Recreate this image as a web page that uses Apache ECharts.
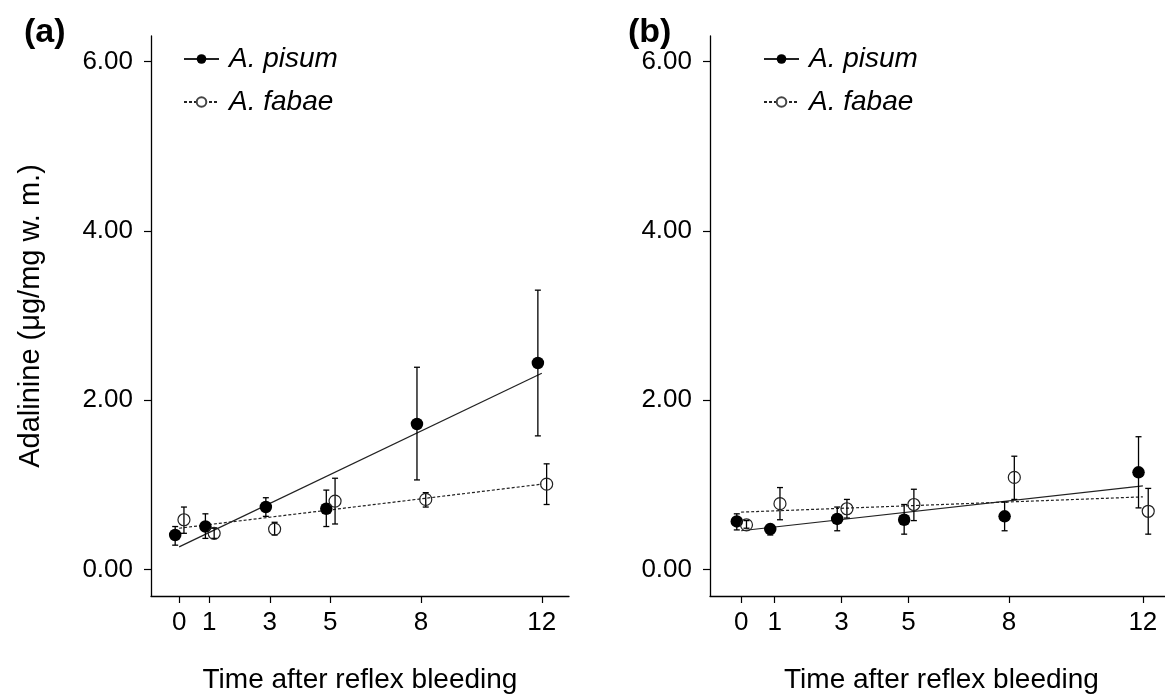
<!DOCTYPE html>
<html>
<head>
<meta charset="utf-8">
<title>Adalinine</title>
<script src="https://cdn.jsdelivr.net/npm/echarts@6/dist/echarts.min.js"></script>
<style>
	html, body { margin: 0; padding: 0; background: #fff; }
	#chart { width: 1165px; height: 695px; }
</style>
</head>
<body>
<div id="chart"></div>
<script>
// time after reflex bleeding
var timePoints = [0, 1, 3, 5, 8, 12];
var yTicks = [0, 2, 4, 6];

// (a) means and error bar ends
var pisumA = [0.41, 0.51, 0.74, 0.72, 1.72, 2.44];
var pisumALow = [0.29, 0.37, 0.63, 0.51, 1.06, 1.58];
var pisumAHigh = [0.51, 0.66, 0.85, 0.94, 2.39, 3.30];
var fabaeA = [0.59, 0.43, 0.48, 0.81, 0.83, 1.01];
var fabaeALow = [0.43, 0.37, 0.41, 0.54, 0.74, 0.77];
var fabaeAHigh = [0.74, 0.49, 0.56, 1.08, 0.91, 1.25];

// (b)
var pisumB = [0.57, 0.48, 0.60, 0.59, 0.63, 1.15];
var pisumBLow = [0.47, 0.41, 0.46, 0.42, 0.46, 0.73];
var pisumBHigh = [0.66, 0.52, 0.74, 0.77, 0.80, 1.57];
var fabaeB = [0.53, 0.78, 0.72, 0.77, 1.09, 0.69];
var fabaeBLow = [0.49, 0.59, 0.61, 0.58, 0.83, 0.42];
var fabaeBHigh = [0.58, 0.97, 0.83, 0.95, 1.34, 0.96];

// fitted lines, value at t=0 and t=12
var fitX = [0, 12];
var fitPisumA = [0.27, 2.32];
var fitFabaeA = [0.49, 1.01];
var fitPisumB = [0.46, 0.99];
var fitFabaeB = [0.68, 0.86];

var FONT = "'Liberation Sans', Arial, sans-serif";
var dodgePisum = -0.13, dodgeFabae = 0.16;

var chart = echarts.init(document.getElementById('chart'));

function pairs(xs, ys, off) {
	return xs.map(function (x, i) { return [x + (off || 0), ys[i]]; });
}

function errorBar(offset) {
	return function (params, api) {
		var x = api.value(0) + offset;
		var lo = api.coord([x, api.value(1)]);
		var hi = api.coord([x, api.value(2)]);
		var cap = 3;
		var style = { stroke: '#000', lineWidth: 1.3 };
		return {
			type: 'group',
			children: [
				{ type: 'line', shape: { x1: lo[0], y1: hi[1], x2: lo[0], y2: lo[1] }, style: style },
				{ type: 'line', shape: { x1: lo[0] - cap, y1: hi[1], x2: lo[0] + cap, y2: hi[1] }, style: style },
				{ type: 'line', shape: { x1: lo[0] - cap, y1: lo[1], x2: lo[0] + cap, y2: lo[1] }, style: style }
			]
		};
	};
}

function xAx(idx) {
	return {
		gridIndex: idx, type: 'value', min: -0.93, max: 12.9,
		name: 'Time after reflex bleeding', nameLocation: 'middle', nameGap: 70,
		nameTextStyle: { fontSize: 28, color: '#000', fontFamily: FONT },
		axisLine: { show: true, onZero: false, lineStyle: { color: '#000', width: 1.3 } },
		axisTick: { show: true, length: 7, customValues: timePoints, lineStyle: { color: '#000', width: 1.2 } },
		axisLabel: { customValues: timePoints, fontSize: 26, color: '#000', fontFamily: FONT, margin: 14 },
		splitLine: { show: false }
	};
}

function yAx(idx, withName) {
	return {
		gridIndex: idx, type: 'value', min: -0.31, max: 6.3,
		name: withName ? 'Adalinine (\u03bcg/mg w. m.)' : '',
		nameLocation: 'middle', nameGap: 106,
		nameTextStyle: { fontSize: 29, color: '#000', fontFamily: FONT },
		axisLine: { show: true, onZero: false, lineStyle: { color: '#000', width: 1.3 } },
		axisTick: { show: true, length: 7, customValues: yTicks, lineStyle: { color: '#000', width: 1.2 } },
		axisLabel: {
			customValues: yTicks, fontSize: 26, color: '#000', fontFamily: FONT, margin: 18,
			formatter: function (v) { return v.toFixed(2); }
		},
		splitLine: { show: false }
	};
}

function legendAt(left) {
	return {
		left: left, top: 45, orient: 'vertical', padding: 0,
		itemWidth: 35, itemHeight: 12, itemGap: 15,
		selectedMode: false,
		data: ['A. pisum', 'A. fabae'],
		textStyle: { fontSize: 28, fontStyle: 'italic', color: '#000', fontFamily: FONT, padding: [0, 0, 0, 5] }
	};
}

function panelSeries(idx, fitP, fitF, pis, pisLo, pisHi, fab, fabLo, fabHi) {
	return [
		{
			name: 'A. pisum', type: 'line', xAxisIndex: idx, yAxisIndex: idx,
			data: pairs(fitX, fitP), showSymbol: false, symbol: 'circle', silent: true,
			itemStyle: { color: '#000' },
			lineStyle: { color: '#222', width: 1.2, type: 'solid' }, z: 2
		},
		{
			name: 'A. fabae', type: 'line', xAxisIndex: idx, yAxisIndex: idx,
			data: pairs(fitX, fitF), showSymbol: false, symbol: 'circle', silent: true,
			itemStyle: { color: '#fff', borderColor: '#444', borderWidth: 1 },
			lineStyle: { color: '#222', width: 1.2, type: [3, 2] }, z: 2
		},
		{
			type: 'custom', xAxisIndex: idx, yAxisIndex: idx, silent: true,
			data: pairs(timePoints, pisLo).map(function (d, i) { return [d[0], d[1], pisHi[i]]; }),
			encode: { x: 0, y: [1, 2] }, renderItem: errorBar(dodgePisum), z: 3
		},
		{
			type: 'custom', xAxisIndex: idx, yAxisIndex: idx, silent: true,
			data: pairs(timePoints, fabLo).map(function (d, i) { return [d[0], d[1], fabHi[i]]; }),
			encode: { x: 0, y: [1, 2] }, renderItem: errorBar(dodgeFabae), z: 3
		},
		{
			name: 'A. pisum', type: 'scatter', xAxisIndex: idx, yAxisIndex: idx,
			data: pairs(timePoints, pis, dodgePisum), symbol: 'circle', symbolSize: 12.5,
			itemStyle: { color: '#000', opacity: 1 }, z: 4
		},
		{
			name: 'A. fabae', type: 'scatter', xAxisIndex: idx, yAxisIndex: idx,
			data: pairs(timePoints, fab, dodgeFabae), symbol: 'circle', symbolSize: 12,
			itemStyle: { color: 'rgba(255,255,255,0)', borderColor: '#222', borderWidth: 1.2, opacity: 1 }, z: 4
		}
	];
}

var option = {
	animation: false,
	backgroundColor: '#fff',
	textStyle: { fontFamily: FONT },
	title: [
		{ text: '(a)', left: 24, top: 16, padding: 0, textStyle: { fontSize: 34, fontWeight: 'bold', color: '#000', fontFamily: FONT } },
		{ text: '(b)', left: 628, top: 16, padding: 0, textStyle: { fontSize: 34, fontWeight: 'bold', color: '#000', fontFamily: FONT } }
	],
	legend: [legendAt(183), legendAt(763)],
	grid: [
		{ left: 151, top: 36, width: 418, height: 560, outerBoundsMode: 'none', containLabel: false },
		{ left: 710, top: 36, width: 463, height: 560, outerBoundsMode: 'none', containLabel: false }
	],
	xAxis: [xAx(0), xAx(1)],
	yAxis: [yAx(0, true), yAx(1, false)],
	series: [].concat(
		panelSeries(0, fitPisumA, fitFabaeA, pisumA, pisumALow, pisumAHigh, fabaeA, fabaeALow, fabaeAHigh),
		panelSeries(1, fitPisumB, fitFabaeB, pisumB, pisumBLow, pisumBHigh, fabaeB, fabaeBLow, fabaeBHigh)
	)
};

chart.setOption(option);
</script>
</body>
</html>
